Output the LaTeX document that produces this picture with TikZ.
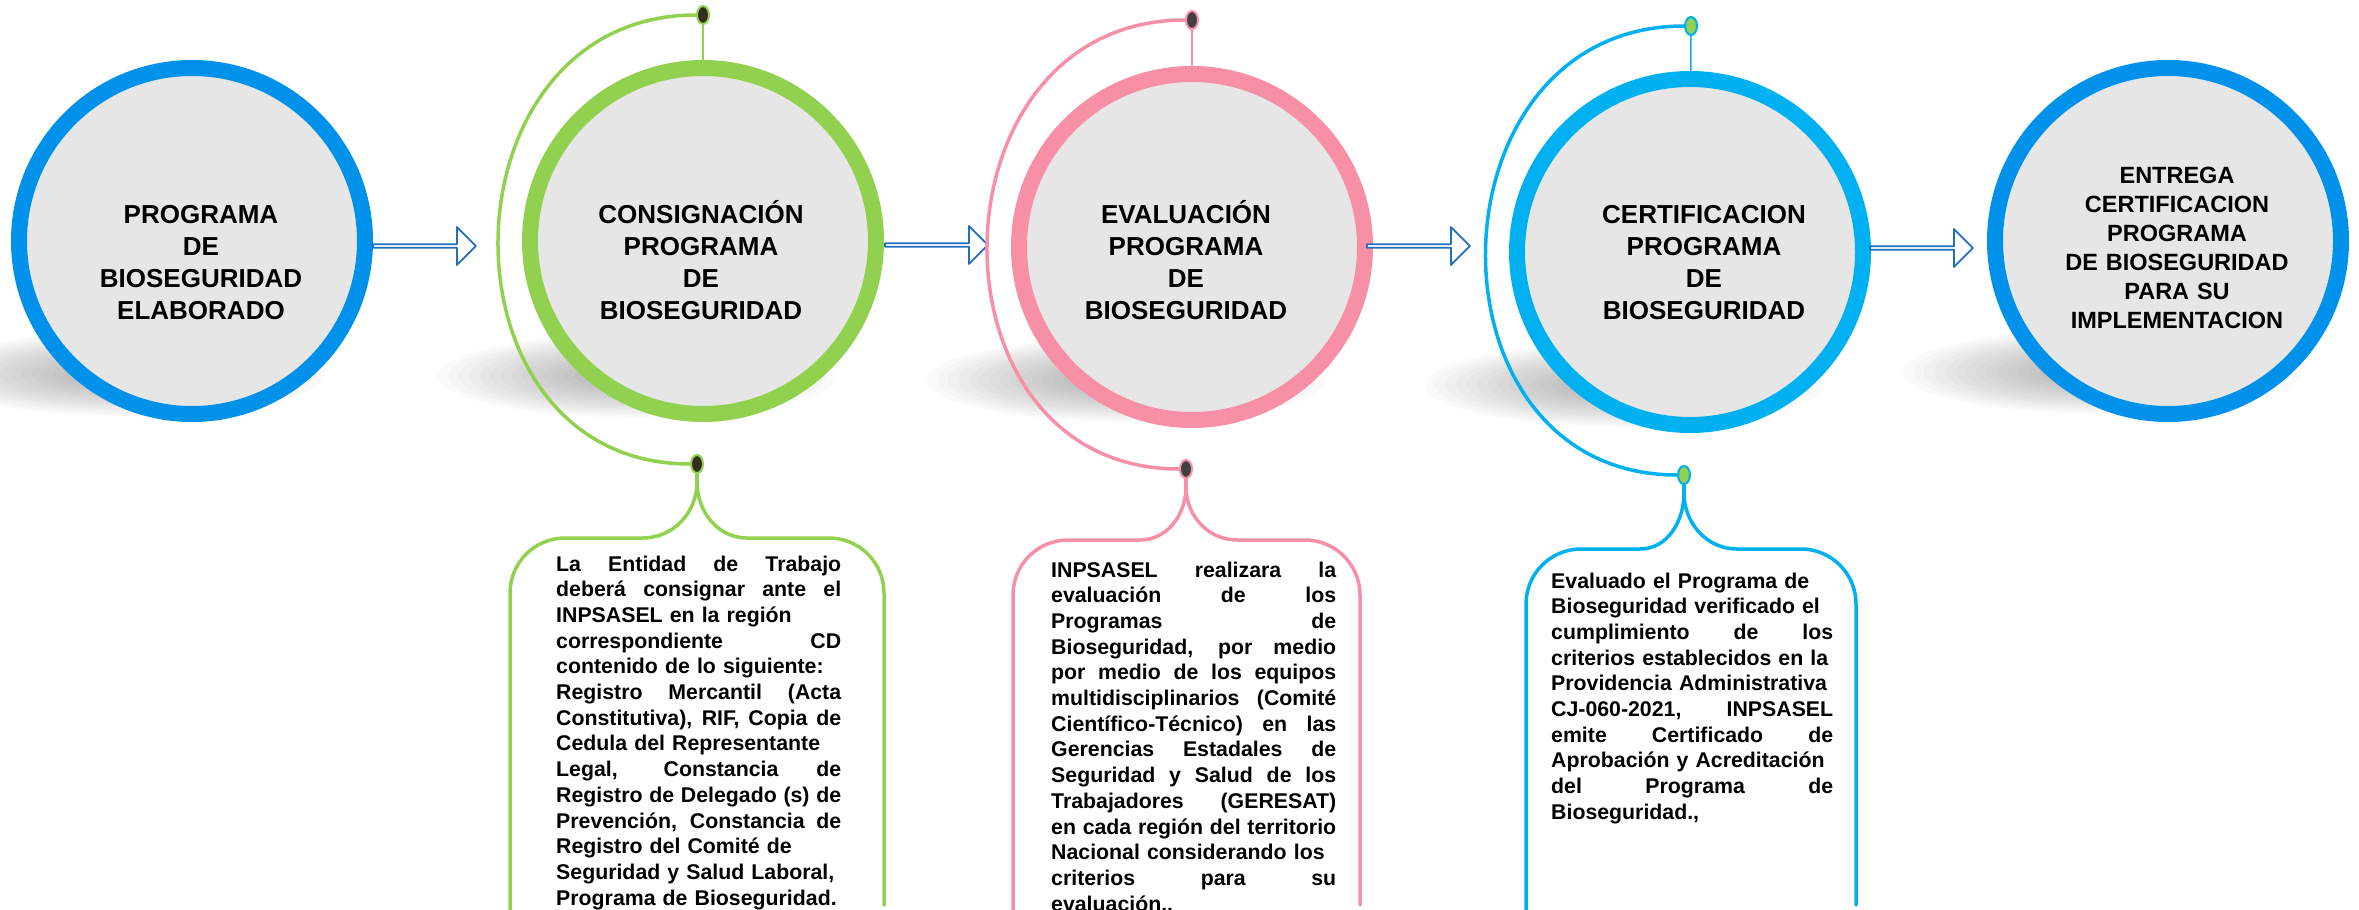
\documentclass[tikz,border=0pt]{standalone}
\usepackage{fontspec}
\setmainfont{Liberation Sans}
\usetikzlibrary{shapes.geometric,shapes.arrows}

\definecolor{ringblue}{RGB}{0,145,234}
\definecolor{ringgreen}{RGB}{146,208,80}
\definecolor{ringpink}{RGB}{247,143,167}
\definecolor{ringcyan}{RGB}{0,176,240}
\definecolor{discgray}{RGB}{230,230,230}
\definecolor{arrowblue}{RGB}{35,110,190}
\definecolor{knobdark}{RGB}{55,45,30}
\definecolor{knobgray}{RGB}{64,64,64}

\newcommand\jl[2][285pt]{\leavevmode\hbox to #1{\spaceskip=\fontdimen2\font plus 1fil\relax #2}}

\begin{document}
\begin{tikzpicture}[x=1pt, y=1pt, line join=round, line cap=round,
	disc/.style={circle, minimum size=346pt, line width=16pt, fill=discgray, inner sep=0pt},
	disctext/.style={text width=330pt, align=center, anchor=base, inner sep=0pt, font=\bfseries\fontsize{26}{32}\selectfont},
	flow/.style={single arrow, draw=arrowblue, fill=white, line width=1.8pt, minimum height=103pt, minimum width=38pt, single arrow head extend=9pt, inner sep=0pt, anchor=west},
	knob/.style={ellipse, minimum width=12pt, minimum height=18pt, inner sep=0pt, line width=2pt},
	wire/.style={line width=3.5pt},
	note/.style={text width=285pt, align=left, anchor=base west, inner sep=0pt, font=\bfseries\fontsize{21.3}{25.7}\selectfont}]
	\useasboundingbox (0,0) rectangle (2359,-910);
	
	% soft shadows
	\foreach \sx/\sy in {126/374, 637/376, 1126/380, 1624/385, 2102/372}
	\foreach \k in {0.3,0.35,...,1.0}
	\fill[black, opacity=0.018] (\sx,-\sy) ellipse ({210*\k} and {44*\k});
	
	\node[disc, draw=ringblue] (c1) at (192,-241) {};
	\node[disc, draw=ringgreen] (c2) at (703,-241) {};
	\node[disc, draw=ringpink] (c3) at (1192,-247) {};
	\node[disc, draw=ringcyan] (c4) at (1690,-252) {};
	\node[disc, draw=ringblue] (c5) at (2168,-241) {};
	
	\node[flow] (a1) at (372,-246) {};
	\node[flow] (a2) at (884,-245) {};
	\node[flow] (a3) at (1366,-246) {};
	\node[flow] (a4) at (1869,-248) {};
	
	\node[knob, fill=knobdark, draw=ringgreen] (d2t) at (703,-15) {};
	\node[knob, fill=knobdark, draw=ringgreen] (d2b) at (697,-464) {};
	\node[knob, fill=knobgray, draw=ringpink] (d3t) at (1192,-20) {};
	\node[knob, fill=knobgray, draw=ringpink] (d3b) at (1186,-469) {};
	\node[knob, fill=ringgreen, draw=ringcyan] (d4t) at (1691,-26) {};
	\node[knob, fill=ringgreen, draw=ringcyan] (d4b) at (1684,-475) {};
	
	\draw[wire, ringgreen] (d2t.west) to[out=180, in=180, distance=260pt] (d2b.west);
	\draw[wire, ringpink] (d3t.west) to[out=180, in=180, distance=260pt] (d3b.west);
	\draw[wire, ringcyan] (d4t.west) to[out=180, in=180, distance=260pt] (d4b.west);
	\draw[ringgreen, line width=1.5pt] (d2t) -- (c2);
	\draw[ringpink, line width=1.5pt] (d3t) -- (c3);
	\draw[ringcyan, line width=1.5pt] (d4t) -- (c4);
	
	% callouts
	\draw[wire, ringgreen] (d2b.south) -- ++(0,-8) coordinate (s2);
	\draw[wire, ringgreen] (s2) to[out=-90, in=0] (643,-538) [rounded corners=55pt] -- (510,-538) -- (510,-915);
	\draw[wire, ringgreen] (s2) to[out=-90, in=180] (747,-538) [rounded corners=55pt] -- (884,-538) -- (884,-905);
	\draw[wire, ringpink] (d3b.south) -- ++(0,-8) coordinate (s3);
	\draw[wire, ringpink] (s3) to[out=-90, in=0] (1140,-540) [rounded corners=55pt] -- (1013,-540) -- (1013,-915);
	\draw[wire, ringpink] (s3) to[out=-90, in=180] (1237,-540) [rounded corners=55pt] -- (1360,-540) -- (1360,-905);
	\draw[wire, ringcyan] (d4b.south) -- ++(0,-8) coordinate (s4);
	\draw[wire, ringcyan] (s4) to[out=-90, in=0] (1640,-549) [rounded corners=55pt] -- (1526,-549) -- (1526,-915);
	\draw[wire, ringcyan] (s4) to[out=-90, in=180] (1737,-549) [rounded corners=55pt] -- (1856,-549) -- (1856,-905);
	
	\node[disctext] (t1) at (201,-223) {PROGRAMA\\DE\\BIOSEGURIDAD\\ELABORADO};
	\node[disctext] (t2) at (701,-223) {CONSIGNACIÓN\\PROGRAMA\\DE\\BIOSEGURIDAD};
	\node[disctext] (t3) at (1186,-223) {EVALUACIÓN\\PROGRAMA\\DE\\BIOSEGURIDAD};
	\node[disctext] (t4) at (1704,-223) {CERTIFICACION\\PROGRAMA\\DE\\BIOSEGURIDAD};
	\node[disctext, font=\bfseries\fontsize{23.5}{29}\selectfont] (t5) at (2177,-183) {ENTREGA\\CERTIFICACION\\PROGRAMA\\DE BIOSEGURIDAD\\PARA SU\\IMPLEMENTACION};
	
	\node[note] (n2) at (556,-571) {\jl{La Entidad de Trabajo}\\
		\jl{deberá consignar ante el}\\
		INPSASEL en la región\\
		\jl{correspondiente CD}\\
		contenido de lo siguiente:\\
		\jl{Registro Mercantil (Acta}\\
		\jl{Constitutiva), RIF, Copia de}\\
		Cedula del Representante\\
		\jl{Legal, Constancia de}\\
		\jl{Registro de Delegado (s) de}\\
		\jl{Prevención, Constancia de}\\
		Registro del Comité de\\
		Seguridad y Salud Laboral,\\
		Programa de Bioseguridad.};
	\node[note] (n3) at (1051,-577) {\jl{INPSASEL realizara la}\\
		\jl{evaluación de los}\\
		\jl{Programas de}\\
		\jl{Bioseguridad, por medio}\\
		\jl{por medio de los equipos}\\
		\jl{multidisciplinarios (Comité}\\
		\jl{Científico-Técnico) en las}\\
		\jl{Gerencias Estadales de}\\
		\jl{Seguridad y Salud de los}\\
		\jl{Trabajadores (GERESAT)}\\
		\jl{en cada región del territorio}\\
		Nacional considerando los\\
		\jl{criterios para su}\\
		evaluación..};
	\node[note] (n4) at (1551,-588) {Evaluado el Programa de\\
		Bioseguridad verificado el\\
		\jl[282pt]{cumplimiento de los}\\
		criterios establecidos en la\\
		Providencia Administrativa\\
		\jl[282pt]{CJ-060-2021, INPSASEL}\\
		\jl[282pt]{emite Certificado de}\\
		Aprobación y Acreditación\\
		\jl[282pt]{del Programa de}\\
		Bioseguridad.,};
\end{tikzpicture}
\end{document}
